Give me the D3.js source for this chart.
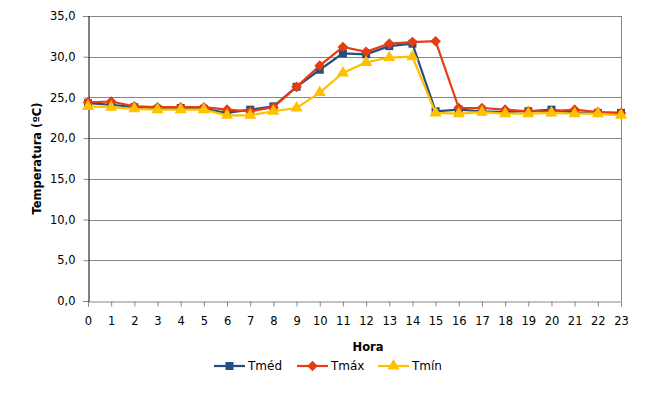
<!DOCTYPE html>
<html>
<head>
<meta charset="utf-8">
<script src="https://cdn.jsdelivr.net/npm/d3@7"></script>
<style>
  body { margin: 0; background: #fff; }
  text { font-family: "DejaVu Sans", Verdana, sans-serif; fill: #000; }
</style>
</head>
<body>
<div id="chart"></div>
<script>
// hours on the x axis
const horas = d3.range(0, 24);

const tmed = [24.3, 24.1, 23.8, 23.6, 23.7, 23.6, 23.1, 23.5, 23.9, 26.3, 28.4, 30.4,
              30.3, 31.3, 31.6, 23.3, 23.5, 23.3, 23.2, 23.3, 23.5, 23.1, 23.1, 23.1];
const tmax = [24.4, 24.5, 23.9, 23.8, 23.8, 23.8, 23.5, 23.3, 23.8, 26.3, 28.9, 31.2,
              30.6, 31.6, 31.8, 31.9, 23.7, 23.7, 23.5, 23.3, 23.3, 23.5, 23.2, 23.1];
const tmin = [23.9, 23.8, 23.6, 23.5, 23.5, 23.5, 22.8, 22.8, 23.3, 23.7, 25.6, 28.0,
              29.3, 29.9, 30.0, 23.1, 23.0, 23.2, 23.0, 23.0, 23.1, 23.0, 23.0, 22.8];

const yTicks = [0, 5, 10, 15, 20, 25, 30, 35];

const series = [
  {name: "Tméd", values: tmed, color: "#254E7F", marker: "square"},
  {name: "Tmáx", values: tmax, color: "#E53C11", marker: "diamond"},
  {name: "Tmín", values: tmin, color: "#FFC000", marker: "triangle"}
];

const W = 659, H = 398;
const margin = {top: 16, right: 38, bottom: 97, left: 88};
const width = W - margin.left - margin.right,
      height = H - margin.top - margin.bottom;

const svg = d3.select("#chart").append("svg")
    .attr("width", W)
    .attr("height", H);

const g = svg.append("g")
    .attr("transform", "translate(" + margin.left + "," + margin.top + ")");

const x = d3.scalePoint()
  .domain(horas)
  .range([0, width]);

const y = d3.scaleLinear()
  .domain([0, 35])
  .range([height, 0]);

// gridlines
g.append("g")
  .selectAll("line")
  .data(yTicks.slice(1))
  .join("line")
    .attr("x1", 0)
    .attr("x2", width)
    .attr("y1", d => Math.round(y(d)) + 0.5)
    .attr("y2", d => Math.round(y(d)) + 0.5)
    .attr("stroke", "#868686")
    .attr("stroke-width", 1);

// right border
g.append("line")
  .attr("x1", width + 0.5).attr("x2", width + 0.5)
  .attr("y1", 0).attr("y2", height)
  .attr("stroke", "#868686");

// x axis
const xAxis = g.append("g")
  .attr("transform", "translate(0," + (Math.round(height) + 0.5) + ")")
  .call(d3.axisBottom(x).tickSize(5).tickPadding(10));
xAxis.select(".domain").attr("stroke", "#868686");
xAxis.selectAll(".tick line").attr("stroke", "#868686");
xAxis.selectAll("text").style("font-size", "11.5px").attr("fill", "#000");

// y axis
const yAxis = g.append("g")
  .attr("transform", "translate(0.5,0)")
  .call(d3.axisLeft(y).tickValues(yTicks).tickSize(5).tickPadding(8)
    .tickFormat(d => d3.format(".1f")(d).replace(".", ",")));
yAxis.select(".domain").attr("stroke", "#000");
yAxis.selectAll(".tick line").attr("stroke", "#868686");
yAxis.selectAll("text").style("font-size", "11.5px").attr("fill", "#000");

// axis titles
svg.append("text")
  .attr("transform", "translate(41," + (margin.top + height / 2) + ")rotate(-90)")
  .attr("text-anchor", "middle")
  .style("font-size", "11.5px")
  .style("font-weight", "bold")
  .text("Temperatura (ºC)");

svg.append("text")
  .attr("x", 368)
  .attr("y", 351)
  .attr("text-anchor", "middle")
  .style("font-size", "11.5px")
  .style("font-weight", "bold")
  .text("Hora");

const symbols = {
  square: d3.symbol(d3.symbolSquare, 64),
  diamond: d3.symbol(d3.symbolDiamond2, 72),
  triangle: d3.symbol(d3.symbolTriangle, 64)
};

const line = d3.line()
  .x((d, i) => x(horas[i]))
  .y(d => y(d));

series.forEach(s => {
  g.append("path")
    .datum(s.values)
    .attr("fill", "none")
    .attr("stroke", s.color)
    .attr("stroke-width", 2.2)
    .attr("d", line);

  g.append("g")
    .selectAll("path")
    .data(s.values)
    .join("path")
      .attr("transform", (d, i) => "translate(" + x(horas[i]) + "," + y(d) + ")")
      .attr("d", symbols[s.marker]())
      .attr("fill", s.color);
});

// legend
const legendX = [214, 297, 378];
const legend = svg.append("g")
  .selectAll("g")
  .data(series)
  .join("g")
    .attr("transform", (d, i) => "translate(" + legendX[i] + ",366)");

legend.append("line")
  .attr("x1", 0).attr("x2", 31)
  .attr("stroke", d => d.color)
  .attr("stroke-width", 2.2);

legend.append("path")
  .attr("transform", "translate(15.5,0)")
  .attr("d", d => symbols[d.marker]())
  .attr("fill", d => d.color);

legend.append("text")
  .attr("x", 34)
  .attr("y", 4)
  .style("font-size", "12px")
  .text(d => d.name);
</script>
</body>
</html>
